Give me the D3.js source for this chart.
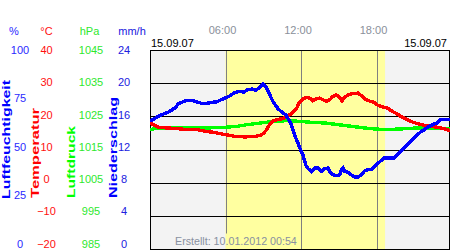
<!DOCTYPE html>
<html><head><meta charset="utf-8">
<script src="https://cdn.jsdelivr.net/npm/d3@7"></script>
<style>
body{margin:0;background:#fff;}
svg{display:block;font-family:"Liberation Sans",Arial,sans-serif;}
</style>
</head><body><svg id="c" width="450" height="250"></svg>
<script>
// ---- data ----
const dateLabel = "15.09.07";
const createdLabel = "Erstellt: 10.01.2012 00:54";
const timeTicks = [6, 12, 18];
const timeTickLabels = ["06:00", "12:00", "18:00"];
const daylight = [6.0, 18.68];
const humTicks = [0, 25, 50, 75, 100];
const tempTicks = [-20, -10, 0, 10, 20, 30, 40];
const presTicks = [985, 995, 1005, 1015, 1025, 1035, 1045];
const precTicks = [0, 4, 8, 12, 16, 20, 24];
const unitLabels = ["%", "°C", "hPa", "mm/h"];
const axisTitles = ["Luftfeuchtigkeit", "Temperatur", "Luftdruck", "Niederschlag"];

const humT = [0,0.26,0.53,0.93,1.45,1.99,2.25,2.52,2.92,3.31,3.71,4.11,4.51,4.90,5.30,5.62,5.96,6.28,6.68,7.07,7.47,7.73,8.13,8.40,8.66,8.85,9.00,9.27,9.46,9.64,9.80,9.99,10.17,10.39,10.59,10.78,10.97,11.18,11.31,11.44,11.58,11.76,11.90,12.16,12.29,12.42,12.56,12.82,13.09,13.35,13.61,13.88,14.15,14.28,14.54,14.81,15.08,15.20,15.34,15.47,15.74,16.00,16.27,16.53,16.79,17.06,17.33,17.59,17.80,18.06,18.33,18.60,19.39,19.65,19.92,20.19,20.45,20.72,20.98,21.24,21.51,21.78,22.04,22.31,22.57,22.83,23.10,23.76];
const humV = [64.5,65.0,66.2,67.5,68.7,70.9,72.9,73.7,74.7,74.7,73.9,73.2,73.2,73.7,73.9,74.9,75.9,76.7,78.4,79.2,78.9,80.0,80.4,79.7,80.9,82.3,82.9,80.9,78.4,75.9,73.9,72.2,70.5,69.3,68.3,67.5,65.5,63.3,60.8,58.3,55.8,53.3,50.8,47.1,44.1,41.6,40.4,39.0,40.7,40.7,39.0,40.4,40.7,39.0,37.3,36.8,37.3,39.8,40.7,39.0,38.5,37.3,36.2,36.2,37.3,39.3,39.8,39.8,41.0,42.7,44.3,45.7,45.7,47.4,49.0,50.8,52.4,54.1,55.8,57.4,58.8,59.9,61.1,62.1,62.8,63.3,65.0,65.0];

const tempT = [0,0.26,0.66,1.33,2.12,2.92,3.71,4.37,5.03,5.56,5.96,6.68,7.47,8.27,8.80,9.06,9.27,9.46,9.72,10.12,10.52,10.91,11.18,11.44,11.66,11.84,11.98,12.16,12.42,12.69,12.95,13.22,13.49,13.75,14.01,14.28,14.54,14.81,15.08,15.26,15.47,15.74,16.13,16.53,16.79,17.06,17.38,17.80,18.12,18.46,18.86,19.26,19.65,20.05,20.45,20.85,21.24,21.78,22.31,22.83,23.37,23.76];
const tempV = [18.0,17.5,16.7,16.5,16.3,16.0,16.0,15.5,15.2,14.8,14.5,14.0,13.8,13.9,14.3,15.0,16.0,17.3,18.5,19.0,19.3,20.0,20.7,21.5,22.5,24.0,24.5,25.3,25.7,25.5,24.7,25.3,25.5,25.0,24.5,25.0,26.0,26.5,25.7,24.7,25.7,26.5,26.9,27.0,26.3,25.3,24.7,24.2,23.3,22.9,22.5,21.5,20.7,19.7,19.0,18.3,17.8,17.3,17.0,16.7,16.3,15.8];

const presT = [0,0.40,1.59,3.18,4.51,5.96,6.94,7.73,8.80,9.85,10.91,11.84,12.82,13.88,14.94,16.00,17.06,17.80,18.86,19.92,21.24,22.57,23.76];
const presV = [1021.0,1021.3,1021.5,1021.5,1021.5,1021.7,1022.0,1022.5,1023.0,1023.5,1023.7,1023.5,1023.2,1023.0,1022.5,1022.0,1021.5,1021.2,1021.0,1021.2,1021.5,1021.5,1021.2];

// ---- layout ----
const svg = d3.select("#c");
const L = 150, R = 449, T = 50, B = 249;
const x = d3.scaleLinear().domain([0, 24]).range([150, 452]);
const yHum = d3.scaleLinear().domain([0, 100]).range([B, T]);
const yTemp = d3.scaleLinear().domain([-20, 40]).range([B, T]);
const yPres = d3.scaleLinear().domain([985, 1045]).range([B, T]);
const yPrec = d3.scaleLinear().domain([0, 24]).range([B, T]);

// backgrounds
svg.append("rect").attr("x", L).attr("y", T).attr("width", R - L).attr("height", B - T).attr("fill", "#f3f3f3");
svg.append("rect").attr("x", x(daylight[0])).attr("y", T)
  .attr("width", x(daylight[1]) - x(daylight[0])).attr("height", B - T).attr("fill", "#ffffa0");

// created label (measure to cut gridline)
const created = svg.append("text").attr("x", 175).attr("y", 244.5)
  .attr("font-size", 10.7).attr("fill", "#8890a0").text(createdLabel);
const cb = created.node().getBBox();

// vertical time lines
svg.append("g").selectAll("line").data(timeTicks).join("line")
  .attr("x1", d => Math.round(x(d)) + 0.5).attr("x2", d => Math.round(x(d)) + 0.5)
  .attr("y1", T).attr("y2", d => (x(d) >= cb.x && x(d) <= cb.x + cb.width) ? cb.y - 1 : B)
  .attr("stroke", "#808080").attr("stroke-width", 1);

// horizontal grid lines
svg.append("g").selectAll("line").data(tempTicks).join("line")
  .attr("x1", L).attr("x2", R)
  .attr("y1", d => Math.round(yTemp(d)) + 0.5).attr("y2", d => Math.round(yTemp(d)) + 0.5)
  .attr("stroke", "#000").attr("stroke-width", 1);
// frame
svg.append("rect").attr("x", L + 0.5).attr("y", T + 0.5).attr("width", R - L).attr("height", B - T)
  .attr("fill", "none").attr("stroke", "#000");

created.raise();

// clip
svg.append("clipPath").attr("id", "pc").append("rect").attr("x", L).attr("y", T).attr("width", R - L + 1).attr("height", B - T);
const lines = svg.append("g").attr("clip-path", "url(#pc)");
function drawLine(ts, vs, yS, color) {
  const data = ts.map((t, i) => [t, vs[i]]);
  lines.append("path").datum(data)
    .attr("d", d3.line().x(d => x(d[0])).y(d => yS(d[1])))
    .attr("fill", "none").attr("stroke", color).attr("stroke-width", 3.4)
    .attr("stroke-linejoin", "miter").attr("stroke-linecap", "square")
    .attr("shape-rendering", "crispEdges");
}
drawLine(presT, presV, yPres, "#00ff00");
drawLine(tempT, tempV, yTemp, "#ff0000");
drawLine(humT, humV, yHum, "#0000ff");

// time labels
svg.append("g").selectAll("text").data(timeTicks).join("text")
  .attr("x", d => x(d) - 3).attr("y", 34).attr("text-anchor", "middle")
  .attr("font-size", 11).attr("fill", "#8a8f9a").text((d, i) => timeTickLabels[i]);

// date labels
svg.append("text").attr("x", 151).attr("y", 47).attr("font-size", 11).attr("fill", "#000").text(dateLabel);
svg.append("text").attr("x", 447).attr("y", 47).attr("text-anchor", "end").attr("font-size", 11).attr("fill", "#000").text(dateLabel);

// left value axes (labels drawn via axis generators on label scales)
const labTop = 50, labBot = 243.6;
const cols = [
  {ticks: humTicks, dom: [0, 100], cx: 20, color: "#2a2aff", hx: 14},
  {ticks: tempTicks, dom: [-20, 40], cx: 46.5, color: "#ff1010", hx: 46.5},
  {ticks: presTicks, dom: [985, 1045], cx: 91, color: "#2ee82e", hx: 89.5},
  {ticks: precTicks, dom: [0, 24], cx: 124, color: "#2020e0", hx: 132}
];
cols.forEach((c, i) => {
  const s = d3.scaleLinear().domain(c.dom).range([labBot, labTop]);
  const g = svg.append("g").attr("transform", `translate(${c.cx},0)`)
    .call(d3.axisLeft(s).tickValues(c.ticks).tickSize(0).tickFormat(d3.format("d")));
  g.select(".domain").remove();
  g.selectAll("text").attr("x", 0).attr("text-anchor", "middle")
    .attr("font-size", 11).attr("font-family", "Liberation Sans, Arial, sans-serif").attr("fill", c.color);
  svg.append("text").attr("x", c.hx).attr("y", 34.5).attr("text-anchor", "middle")
    .attr("font-size", 11).attr("fill", c.color).text(unitLabels[i]);
});

// rotated axis titles
const titles = [
  {bx: 9.5, y0: 199, y1: 80, color: "#0000ff"},
  {bx: 38.5, y0: 198, y1: 108, color: "#ff0000"},
  {bx: 75, y0: 198, y1: 126, color: "#00ff00"},
  {bx: 117, y0: 198, y1: 97, color: "#0000ff"}
];
titles.forEach((t, i) => {
  svg.append("text").attr("transform", `translate(${t.bx},${t.y0}) rotate(-90)`)
    .attr("font-size", 10).attr("font-weight", "bold").attr("fill", t.color)
    .attr("textLength", t.y0 - t.y1).attr("lengthAdjust", "spacingAndGlyphs")
    .text(axisTitles[i]);
});
</script>
</body></html>
